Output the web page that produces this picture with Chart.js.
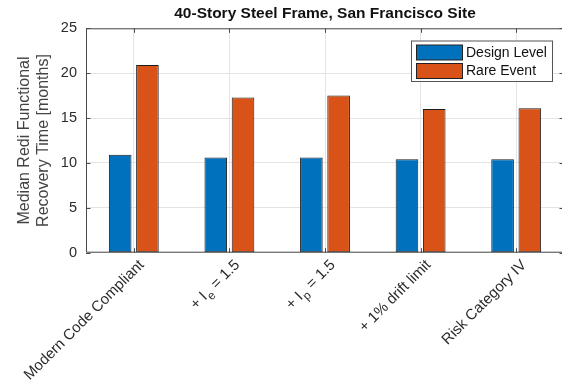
<!DOCTYPE html>
<html>
<head>
<meta charset="utf-8">
<script src="https://cdn.jsdelivr.net/npm/chart.js@4.4.1/dist/chart.umd.min.js"></script>
<style>
  html, body { margin: 0; padding: 0; background: #fff; overflow: hidden; }
  #wrap { position: relative; width: 566px; height: 385px; }
</style>
</head>
<body>
<div id="wrap"><canvas id="c" width="566" height="385"></canvas></div>
<script>
// Retrofit variants (an underscore marks a subscript character)
const categories = ['Modern Code Compliant', '+ I_e = 1.5', '+ I_p = 1.5', '+ 1% drift limit', 'Risk Category IV'];
const designLevel = [10.9, 10.6, 10.6, 10.4, 10.4];
const rareEvent = [20.9, 17.3, 17.5, 16.0, 16.1];
const yTicks = [0, 5, 10, 15, 20, 25];

const FONT = "'Liberation Sans', Arial, sans-serif";
const TEXT = '#2b2b2b';
const AXIS = '#4a4a4a';

// Title centred over the plot box
const titlePlugin = {
  id: 'plotTitle',
  afterDraw(chart) {
    const { ctx, chartArea } = chart;
    ctx.save();
    ctx.font = 'bold 15.5px ' + FONT;
    ctx.fillStyle = '#111';
    ctx.textAlign = 'center';
    ctx.textBaseline = 'middle';
    ctx.fillText('40-Story Steel Frame, San Francisco Site', (chartArea.left + chartArea.right) / 2, 14);
    ctx.restore();
  }
};

// Axes box with inward tick marks on all four sides
const boxPlugin = {
  id: 'axesBox',
  afterDatasetsDraw(chart) {
    const { ctx, chartArea: a, scales } = chart;
    const len = 4.5;
    ctx.save();
    ctx.strokeStyle = AXIS;
    ctx.lineWidth = 1;
    ctx.beginPath();
    ctx.rect(a.left + 0.5, a.top + 0.5, a.right - a.left - 1, a.bottom - a.top - 1);
    scales.x.ticks.forEach((t, i) => {
      const x = Math.round(scales.x.getPixelForTick(i)) + 0.5;
      ctx.moveTo(x, a.bottom); ctx.lineTo(x, a.bottom - len);
      ctx.moveTo(x, a.top); ctx.lineTo(x, a.top + len);
    });
    scales.y.ticks.forEach((t, i) => {
      const y = Math.round(scales.y.getPixelForTick(i)) + 0.5;
      ctx.moveTo(a.left, y); ctx.lineTo(a.left + len, y);
      ctx.moveTo(a.right, y); ctx.lineTo(a.right - len, y);
    });
    ctx.stroke();
    ctx.restore();
  }
};

// Rotated category labels, with "_c" drawn as a subscript
const xLabelPlugin = {
  id: 'xLabels',
  afterDraw(chart) {
    const { ctx, chartArea: a, scales } = chart;
    const size = 15;
    ctx.save();
    ctx.fillStyle = TEXT;
    ctx.textBaseline = 'middle';
    chart.data.labels.forEach((lab, i) => {
      const x = scales.x.getPixelForTick(i);
      const parts = [];
      for (let k = 0; k < lab.length; k++) {
        if (lab[k] === '_' && k + 1 < lab.length) { parts.push({ s: lab[k + 1], sub: true }); k++; }
        else {
          if (parts.length && !parts[parts.length - 1].sub) parts[parts.length - 1].s += lab[k];
          else parts.push({ s: lab[k], sub: false });
        }
      }
      let total = 0;
      parts.forEach(p => {
        ctx.font = (p.sub ? size * 0.8 : size) + 'px ' + FONT;
        p.w = ctx.measureText(p.s).width + (p.sub ? 1 : 0);
        total += p.w;
      });
      ctx.translate(x + 8, a.bottom + 10);
      ctx.rotate(-Math.PI / 4);
      let cx = -total;
      ctx.textAlign = 'left';
      parts.forEach(p => {
        ctx.font = (p.sub ? size * 0.8 : size) + 'px ' + FONT;
        ctx.fillText(p.s, cx + (p.sub ? 0.5 : 0), p.sub ? 5.5 : 0);
        cx += p.w;
      });
      ctx.setTransform(1, 0, 0, 1, 0, 0);
    });
    ctx.restore();
  }
};

// Legend box in the upper-right corner of the plot
const legendPlugin = {
  id: 'boxLegend',
  afterDraw(chart) {
    const { ctx } = chart;
    const bx = 411, by = 40.5, bw = 141, bh = 40.5;
    ctx.save();
    ctx.fillStyle = '#fff';
    ctx.fillRect(bx, by, bw, bh);
    ctx.strokeStyle = '#555';
    ctx.lineWidth = 1;
    ctx.strokeRect(bx + 0.5, by + 0.5, bw, bh);
    ctx.font = '14px ' + FONT;
    ctx.textBaseline = 'middle';
    chart.data.datasets.forEach((ds, i) => {
      const rowY = by + 12 + i * 18.5;
      ctx.fillStyle = ds.backgroundColor;
      ctx.fillRect(416, rowY - 7.5, 47, 15);
      ctx.strokeStyle = '#222';
      ctx.strokeRect(416.5, rowY - 7.5, 46, 15);
      ctx.fillStyle = '#111';
      ctx.fillText(ds.label, 466, rowY + 0.5);
    });
    ctx.restore();
  }
};

new Chart(document.getElementById('c'), {
  type: 'bar',
  data: {
    labels: categories,
    datasets: [
      { label: 'Design Level', data: designLevel, backgroundColor: '#0072BD', borderColor: '#1c1c1c', borderWidth: 1, borderSkipped: false },
      { label: 'Rare Event', data: rareEvent, backgroundColor: '#D95319', borderColor: '#1c1c1c', borderWidth: 1, borderSkipped: false }
    ]
  },
  options: {
    responsive: false,
    animation: false,
    devicePixelRatio: 1,
    layout: { padding: { top: 28.3, right: 2, left: 0, bottom: 0 } },
    datasets: { bar: { categoryPercentage: 0.57, barPercentage: 0.83 } },
    plugins: { legend: { display: false }, tooltip: { enabled: false }, title: { display: false } },
    scales: {
      x: {
        type: 'category',
        offset: true,
        grid: { offset: false, color: '#e4e4e4', drawTicks: false },
        border: { display: false },
        ticks: { display: false },
        afterFit(scale) { scale.height = 385 - 252.7; }
      },
      y: {
        min: 0,
        max: 25,
        afterBuildTicks(scale) { scale.ticks = yTicks.map(v => ({ value: v })); },
        grid: { color: '#e4e4e4', drawTicks: false },
        border: { display: false },
        ticks: { color: TEXT, font: { family: FONT, size: 14.5 }, padding: 9 },
        title: {
          display: true,
          text: ['Median Redi Functional', 'Recovery Time [months]'],
          color: '#444',
          font: { family: FONT, size: 16 },
          padding: { top: 15, bottom: 0 }
        },
        afterFit(scale) { scale.width = 86; }
      }
    }
  },
  plugins: [titlePlugin, boxPlugin, xLabelPlugin, legendPlugin]
});
</script>
</body>
</html>
